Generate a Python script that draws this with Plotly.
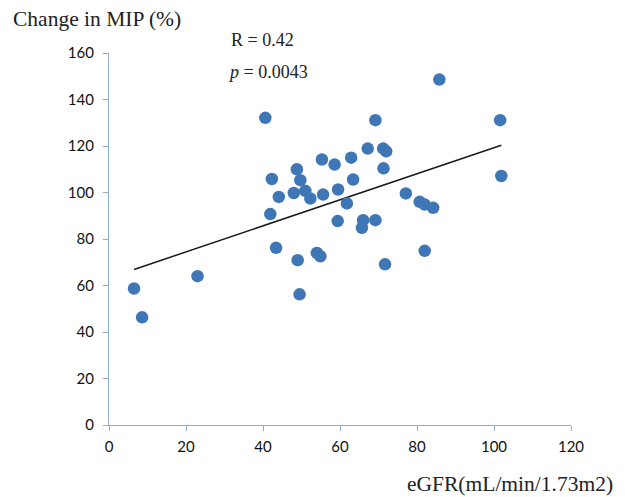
import plotly.graph_objects as go

egfr = [40.6, 69.2, 67.2, 71.2, 72.0, 55.3, 62.9, 58.6, 48.8, 71.3,
        42.3, 49.7, 63.4, 44.1, 48.0, 51.0, 52.3, 55.6, 59.5, 61.8,
        77.1, 80.7, 82.0, 84.2, 41.9, 59.4, 66.0, 65.7, 69.2, 43.4,
        49.0, 54.0, 54.9, 82.0, 71.7, 49.5, 85.8, 101.6, 101.9, 6.5,
        8.6, 23.0]
mip = [132.1, 131.1, 118.9, 118.9, 117.7, 114.2, 115.0, 112.0, 110.0, 110.4,
       105.8, 105.3, 105.6, 98.1, 99.8, 100.7, 97.4, 99.1, 101.3, 95.3,
       99.6, 96.0, 94.8, 93.4, 90.7, 87.7, 88.1, 84.8, 88.1, 76.2,
       70.9, 74.0, 72.6, 74.9, 69.1, 56.2, 148.6, 131.1, 107.1, 58.7,
       46.3, 64.0]
trend_x = [6.5, 101.9]
trend_y = [66.9, 120.3]

x_ticks = [0, 20, 40, 60, 80, 100, 120]
y_ticks = [0, 20, 40, 60, 80, 100, 120, 140, 160]

W, H = 625, 497
L, R, T, B = 109, 54, 53, 72
pw, ph = W - L - R, H - T - B

def px(x):
    return (x - L) / pw

def py(y):
    return (H - B - y) / ph

fig = go.Figure()
fig.add_trace(go.Scatter(x=trend_x, y=trend_y, mode="lines",
                         line=dict(color="#1a1a1a", width=1.5),
                         showlegend=False, hoverinfo="skip"))
fig.add_trace(go.Scatter(x=egfr, y=mip, mode="markers",
                         marker=dict(color="#3F76B6", size=12.5),
                         showlegend=False))

axis_common = dict(showgrid=False, zeroline=False, showline=True,
                   linecolor="#8FAECB", linewidth=1.2,
                   ticks="outside", ticklen=5, tickcolor="#8FAECB",
                   tickfont=dict(family="Lato", size=15, color="#111111"))

fig.update_xaxes(range=[0, 120], tickvals=x_ticks, ticklabelstandoff=3,
                 **axis_common)
fig.update_yaxes(range=[0, 160], tickvals=y_ticks, ticklabelstandoff=6,
                 **axis_common)

serif = dict(family="Liberation Serif", color="#222222")
fig.add_annotation(text="Change in MIP (%)", xref="paper", yref="paper",
                   x=px(11), y=py(19), xanchor="left", yanchor="middle",
                   showarrow=False, font=dict(size=21.5, **serif))
fig.add_annotation(text="R = 0.42", xref="paper", yref="paper",
                   x=px(229), y=py(40), xanchor="left", yanchor="middle",
                   showarrow=False, font=dict(size=18, **serif))
fig.add_annotation(text="<i>p</i> = 0.0043", xref="paper", yref="paper",
                   x=px(226), y=py(72), xanchor="left", yanchor="middle",
                   showarrow=False, font=dict(size=18, **serif))
fig.add_annotation(text="eGFR(mL/min/1.73m2)", xref="paper", yref="paper",
                   x=px(615), y=py(484), xanchor="right", yanchor="middle",
                   showarrow=False, font=dict(size=21.5, **serif))

fig.update_layout(width=W, height=H,
                  margin=dict(l=L, r=R, t=T, b=B),
                  plot_bgcolor="white", paper_bgcolor="white")

fig.write_html("out.html", config={"displayModeBar": False},
               post_script="document.body.style.margin='0';"
                           "document.body.style.overflow='hidden';")
